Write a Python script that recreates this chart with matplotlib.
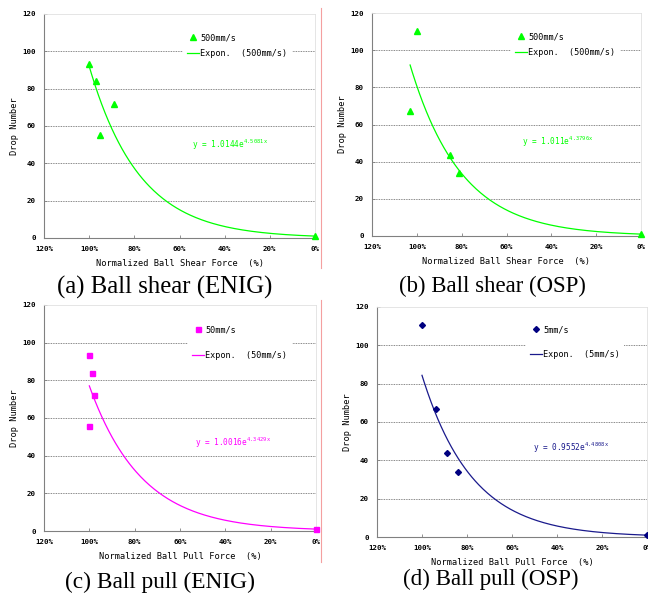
import numpy as np
import matplotlib
matplotlib.use("Agg")
import matplotlib.pyplot as plt
from matplotlib.lines import Line2D

plt.rcParams['mathtext.default'] = 'regular'

# ---------------- data ----------------
x_ticks = [1.2, 1.0, 0.8, 0.6, 0.4, 0.2, 0.0]
x_tick_labels = ["120%", "100%", "80%", "60%", "40%", "20%", "0%"]
y_ticks = [0, 20, 40, 60, 80, 100, 120]

a_x = [1.00, 0.97, 0.95, 0.89, 0.00]
a_y = [93, 84, 55, 72, 1]
a_fit = (1.0144, 4.5081, 1.00)   # a, b, x_max for trendline y = a*exp(b*x)

b_x = [1.00, 1.03, 0.85, 0.81, 0.00]
b_y = [110.5, 67, 43.6, 34, 1]
b_fit = (1.011, 4.3796, 1.03)

c_x = [1.00, 0.99, 0.98, 1.00, 0.00]
c_y = [93.5, 84, 72, 55.5, 1.2]
c_fit = (1.0016, 4.3429, 1.00)

d_x = [1.00, 0.94, 0.89, 0.84, 0.00]
d_y = [110.5, 67, 43.7, 34, 1]
d_fit = (0.9552, 4.4808, 1.00)

titles = ["(a) Ball shear (ENIG)", "(b) Ball shear (OSP)",
          "(c) Ball pull (ENIG)", "(d) Ball pull (OSP)"]
xlabels = ["Normalized Ball Shear Force  (%)", "Normalized Ball Shear Force  (%)",
           "Normalized Ball Pull Force  (%)", "Normalized Ball Pull Force  (%)"]
series_labels = ["500mm/s", "500mm/s", "50mm/s", "5mm/s"]
fit_labels = ["Expon.  (500mm/s)", "Expon.  (500mm/s)", "Expon.  (50mm/s)", "Expon.  (5mm/s)"]
equations = [r"y = 1.0144e$^{4.5081x}$", r"y = 1.011e$^{4.3796x}$",
             r"y = 1.0016e$^{4.3429x}$", r"y = 0.9552e$^{4.4808x}$"]

# ---------------- layout (pixels) ----------------
W, H = 648, 598
fig = plt.figure(figsize=(W / 100, H / 100), dpi=100)

def px_axes(l, r, t, b):
    return fig.add_axes([l / W, 1 - b / H, (r - l) / W, (b - t) / H])

panels = [
    dict(box=(44, 315, 14, 238), xs=a_x, ys=a_y, fit=a_fit, color='#00ff00', lcolor='#00ff00',
         marker='^', ms=5.0, leg=(183, 29, 0.75), eq=(192, 145), title=(164.5, 287), tsize=17.8),
    dict(box=(372, 641, 13, 236), xs=b_x, ys=b_y, fit=b_fit, color='#00ff00', lcolor='#00ff00',
         marker='^', ms=5.0, leg=(511, 28, 0.75), eq=(522, 142), title=(492, 286), tsize=16.4),
    dict(box=(44, 316, 305, 531), xs=c_x, ys=c_y, fit=c_fit, color='#ff00ff', lcolor='#ff00ff',
         marker='s', ms=3.6, leg=(188, 321, 1.95), eq=(195, 443), title=(160, 582), tsize=16.8),
    dict(box=(377, 647, 307, 537), xs=d_x, ys=d_y, fit=d_fit, color='#000080', lcolor='#1a1a8c',
         marker='D', ms=3.0, leg=(526, 321, 1.85), eq=(533, 448), title=(491, 579), tsize=16.6),
]

mono = 'DejaVu Sans Mono'

for i, p in enumerate(panels):
    l, r, t, b = p['box']
    ax = px_axes(l, r, t, b)
    ax.set_xlim(1.2, 0.0)
    ax.set_ylim(0, 120)
    ax.set_xticks(x_ticks)
    ax.set_xticklabels(x_tick_labels, family=mono, fontsize=5.3, fontweight='bold')
    ax.set_yticks(y_ticks)
    ax.set_yticklabels([str(v) for v in y_ticks], family=mono, fontsize=5.3, fontweight='bold')
    ax.tick_params(direction='in', length=2, width=0.6, color='#808080', pad=6)
    for yv in y_ticks[1:-1]:
        ax.axhline(yv, color='#606060', lw=0.6, ls=(0, (1, 1)), zorder=0)
    for s in ['left', 'bottom']:
        ax.spines[s].set_color('#808080')
        ax.spines[s].set_linewidth(0.8)
    for s in ['top', 'right']:
        ax.spines[s].set_color('#e0e0e0')
        ax.spines[s].set_linewidth(0.6)

    a, bb, xmax = p['fit']
    xf = np.linspace(0, xmax, 200)
    line, = ax.plot(xf, a * np.exp(bb * xf), color=p['lcolor'], lw=0.9, zorder=3)
    pts, = ax.plot(p['xs'], p['ys'], ls='none', marker=p['marker'], ms=p['ms'],
                   color=p['color'], mec=p['color'], zorder=4, clip_on=False)

    ax.set_xlabel(xlabels[i], family=mono, fontsize=6.2, labelpad=4.5)
    ax.set_ylabel("Drop Number", family=mono, fontsize=6.2, labelpad=2)

    lx, ly, lsp = p['leg']
    leg = ax.legend([pts, line], [series_labels[i], fit_labels[i]],
                    loc='upper left', bbox_to_anchor=(lx / W, 1 - ly / H),
                    bbox_transform=fig.transFigure, frameon=True, framealpha=1,
                    edgecolor='none', facecolor='white', fancybox=False,
                    prop={'family': mono, 'size': 6.1}, handlelength=1.4,
                    handletextpad=0.15, labelspacing=lsp, borderaxespad=0,
                    borderpad=0.5)
    leg.set_zorder(2)

    ex, ey = p['eq']
    fig.text(ex / W, 1 - ey / H, equations[i], color=p['lcolor'], family=mono,
             fontsize=5.6, ha='left', va='center')

    tx, ty = p['title']
    fig.text(tx / W, 1 - ty / H, titles[i], family='Liberation Serif', fontsize=p['tsize'],
             ha='center', va='center')

# decorative borders seen in the reference image
fig.add_artist(Line2D([320.5 / W, 320.5 / W], [1 - 8 / H, 1 - 268 / H], color='#f4a0a0', lw=0.8))
fig.add_artist(Line2D([320.5 / W, 320.5 / W], [1 - 300 / H, 1 - 562 / H], color='#f4a0a0', lw=0.8))

fig.savefig("out.png", dpi=100)
